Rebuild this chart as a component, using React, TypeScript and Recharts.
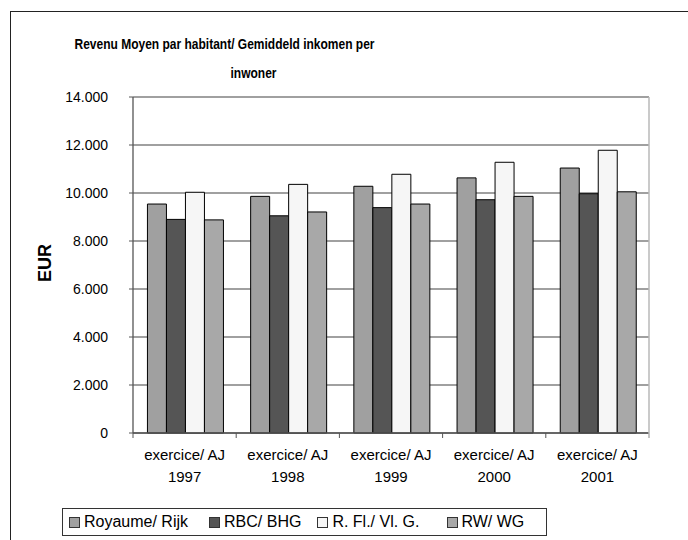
import React from 'react';
import { BarChart, Bar, XAxis, YAxis, CartesianGrid, Legend } from 'recharts';

const FONT = '"Liberation Sans", Arial, sans-serif';

const years = ['1997', '1998', '1999', '2000', '2001'];
const tickPrefix = 'exercice/ AJ';
const royaume = [9540, 9860, 10280, 10630, 11040];
const rbc = [8900, 9050, 9390, 9720, 9970];
const rfl = [10030, 10360, 10780, 11280, 11780];
const rw = [8880, 9210, 9540, 9860, 10050];
const seriesKeys = ['roy', 'rbc', 'rfl', 'rw'];
const seriesNames = ['Royaume/ Rijk', 'RBC/ BHG', 'R. Fl./ Vl. G.', 'RW/ WG'];
const seriesColors = ['#a0a0a0', '#555555', '#f6f6f6', '#a8a8a8'];
const yTicks = [0, 2000, 4000, 6000, 8000, 10000, 12000, 14000];
const titleLine1 = 'Revenu Moyen par habitant/ Gemiddeld inkomen per';
const titleLine2 = 'inwoner';
const yLabel = 'EUR';

const data = years.map((y, i) => ({
  year: y,
  roy: royaume[i],
  rbc: rbc[i],
  rfl: rfl[i],
  rw: rw[i],
}));

const fmt = (v: number) => {
  if (v === 0) return '0';
  const s = String(v);
  return s.replace(/\B(?=(\d{3})+(?!\d))/g, '.');
};

const XTick = (props: any) => {
  const { x, y, payload, width, visibleTicksCount, index } = props;
  const band = width / (visibleTicksCount || 5);
  const left = x - band / 2;
  const right = x + band / 2;
  const last = index === (visibleTicksCount || 5) - 1;
  return (
    <g>
      <line x1={left} x2={left} y1={y} y2={y + 5} stroke="#555" strokeWidth={1} />
      {last && <line x1={right} x2={right} y1={y} y2={y + 5} stroke="#b0b0b0" strokeWidth={1.5} />}
      <text x={x} y={y} textAnchor="middle" fontSize={15} fill="#000" fontFamily={FONT}>
        <tspan x={x} dy={27}>{tickPrefix}</tspan>
        <tspan x={x} dy={22}>{payload.value}</tspan>
      </text>
    </g>
  );
};

const EurLabel = (props: any) => {
  const vb = props.viewBox || { x: 0, y: 97, width: 133, height: 336 };
  const cx = vb.x + 45;
  const cy = vb.y + vb.height / 2 - 2;
  return (
    <text
      x={cx}
      y={cy}
      transform={`rotate(-90, ${cx}, ${cy})`}
      textAnchor="middle"
      dominantBaseline="central"
      fontSize={18}
      fontWeight="bold"
      fill="#000"
      fontFamily={FONT}
    >
      {yLabel}
    </text>
  );
};

const renderLegend = () => (
  <div
    style={{
      boxSizing: 'border-box',
      width: 485,
      height: 28,
      border: '1px solid #333',
      display: 'flex',
      alignItems: 'center',
      paddingLeft: 6,
      fontFamily: FONT,
      fontSize: 16,
      color: '#000',
      background: '#fff',
    }}
  >
    {seriesNames.map((n, i) => (
      <div key={n} style={{ display: 'flex', alignItems: 'center', marginRight: i === 0 ? 21 : i === 1 ? 16 : 27 }}>
        <span
          style={{
            display: 'inline-block',
            width: 9,
            height: 9,
            border: '1px solid #333',
            background: seriesColors[i],
            marginRight: 4,
          }}
        />
        <span style={{ whiteSpace: 'nowrap' }}>{n}</span>
      </div>
    ))}
  </div>
);

const titleStyle: React.CSSProperties = {
  position: 'absolute',
  left: 0,
  lineHeight: '18px',
  textAlign: 'center',
  fontWeight: 'bold',
  fontSize: 15,
  whiteSpace: 'nowrap',
  color: '#000',
  transform: 'scaleX(0.8)',
};

export default function App() {
  return (
    <div style={{ position: 'fixed', left: 0, top: 0, width: 688, height: 540, background: '#fff', overflow: 'hidden', fontFamily: FONT }}>
      <div
        style={{
          position: 'absolute',
          left: 10,
          top: 11,
          width: 700,
          height: 600,
          borderTop: '1.5px solid #222',
          borderLeft: '1.5px solid #222',
        }}
      />
      <div style={{ ...titleStyle, width: 449, top: 35 }}>{titleLine1}</div>
      <div style={{ ...titleStyle, width: 507, top: 64 }}>{titleLine2}</div>
      <div style={{ position: 'absolute', left: 0, top: 0 }}>
        <BarChart
          width={688}
          height={540}
          data={data}
          margin={{ top: 97, right: 38, left: 0, bottom: 57 }}
          barGap={0}
          barCategoryGap="14%"
        >
          <CartesianGrid vertical={false} stroke="#808080" strokeWidth={1.3} />
          <XAxis
            dataKey="year"
            interval={0}
            tick={<XTick />}
            tickLine={false}
            tickSize={0}
            tickMargin={0}
            axisLine={{ stroke: '#555', strokeWidth: 1.3 }}
            height={50}
          />
          <YAxis
            domain={[0, 14000]}
            ticks={yTicks}
            tickFormatter={fmt}
            width={133}
            tickSize={4}
            tickMargin={21}
            axisLine={{ stroke: '#555', strokeWidth: 1.3 }}
            tickLine={{ stroke: '#555' }}
            tick={{ fill: '#000', fontSize: 14, fontFamily: FONT }}
            label={{ content: EurLabel }}
          />
          <YAxis
            yAxisId="r"
            orientation="right"
            domain={[0, 14000]}
            ticks={yTicks}
            width={1}
            tick={false}
            tickLine={false}
            axisLine={{ stroke: '#b8b8b8', strokeWidth: 1.5 }}
          />
          {seriesKeys.map((k, i) => (
            <Bar
              key={k}
              dataKey={k}
              name={seriesNames[i]}
              fill={seriesColors[i]}
              stroke="#000"
              strokeWidth={1}
              isAnimationActive={false}
            />
          ))}
          <Legend
            layout="horizontal"
            verticalAlign="middle"
            align="center"
            wrapperStyle={{ position: 'absolute', left: 62, top: 508, width: 485, height: 28 }}
            content={renderLegend}
          />
        </BarChart>
      </div>
    </div>
  );
}
